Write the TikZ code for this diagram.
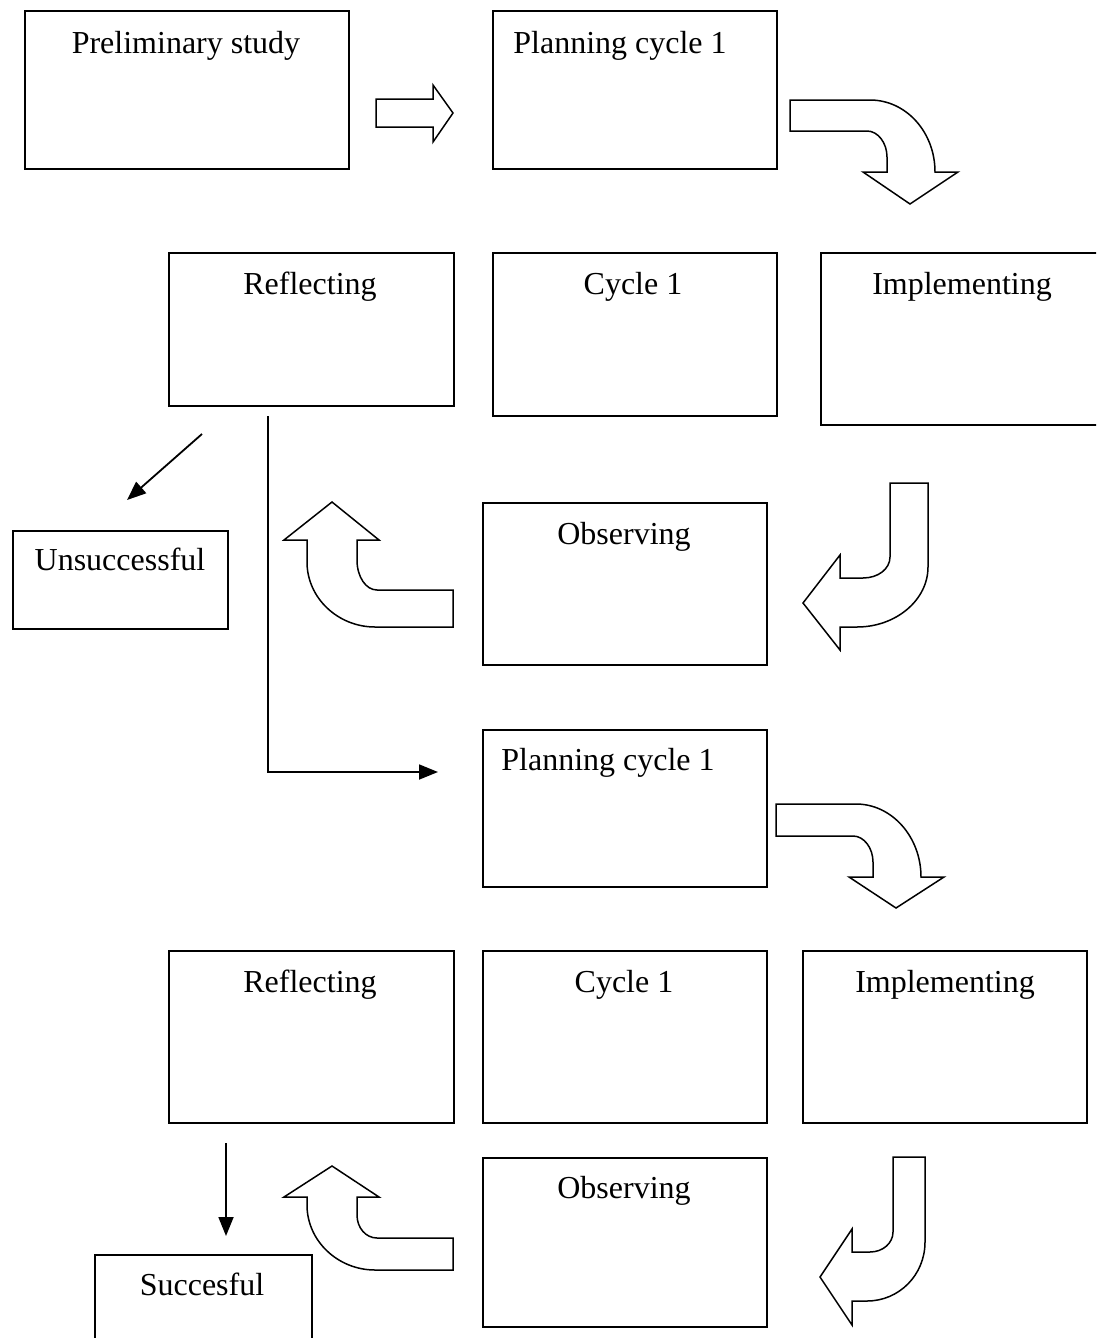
\documentclass[tikz,border=0pt]{standalone}
\usepackage{fontspec}
\setmainfont{Liberation Serif}
\usetikzlibrary{arrows.meta}
\tikzset{
  box/.style={draw, line width=1.6pt, rectangle, inner sep=0pt, anchor=north west},
  lbl/.style={anchor=base, inner sep=0pt, font=\fontsize{32}{38}\selectfont},
  blockarrow/.style={draw, line width=1.5pt, line join=miter, fill=white},
  conn/.style={line width=1.8pt, -{Triangle[length=19pt,width=15pt]}},
  plain/.style={line width=1.6pt}
}
\begin{document}
\begin{tikzpicture}[x=1pt,y=-1pt]
\useasboundingbox (0,0) rectangle (1096,1338);
\clip (0,0) rectangle (1096,1338);
\fill[white] (0,0) rectangle (1096,1338);

% boxes
\node[box, minimum width=324pt, minimum height=158pt] (pre) at (24,10) {};
\node[box, minimum width=284pt, minimum height=158pt] (plan1) at (492,10) {};
\node[box, minimum width=285pt, minimum height=153pt] (refl1) at (168,252) {};
\node[box, minimum width=284pt, minimum height=163pt] (cyc1) at (492,252) {};
\node[box, minimum width=290pt, minimum height=172pt] (impl1) at (820,252) {};
\node[box, minimum width=284pt, minimum height=162pt] (obs1) at (482,502) {};
\node[box, minimum width=215pt, minimum height=98pt] (unsucc) at (12,530) {};
\node[box, minimum width=284pt, minimum height=157pt] (plan2) at (482,729) {};
\node[box, minimum width=285pt, minimum height=172pt] (refl2) at (168,950) {};
\node[box, minimum width=284pt, minimum height=172pt] (cyc2) at (482,950) {};
\node[box, minimum width=284pt, minimum height=172pt] (impl2) at (802,950) {};
\node[box, minimum width=284pt, minimum height=169pt] (obs2) at (482,1157) {};
\node[box, minimum width=217pt, minimum height=110pt] (succ) at (94,1254) {};

% labels
\node[lbl] (preT) at (186,54) {Preliminary study};
\node[lbl] (plan1T) at (620,54) {Planning cycle 1};
\node[lbl] (refl1T) at (310,294) {Reflecting};
\node[lbl] (cyc1T) at (633,294) {Cycle 1};
\node[lbl] (impl1T) at (962,294) {Implementing};
\node[lbl] (obs1T) at (624,544) {Observing};
\node[lbl] (unsuccT) at (120,570) {Unsuccessful};
\node[lbl] (plan2T) at (608,770) {Planning cycle 1};
\node[lbl] (refl2T) at (310,992) {Reflecting};
\node[lbl] (cyc2T) at (624,992) {Cycle 1};
\node[lbl] (impl2T) at (945,992) {Implementing};
\node[lbl] (obs2T) at (624,1198) {Observing};
\node[lbl] (succT) at (202,1295) {Succesful};

% block arrows
\draw[blockarrow] (376,99) -- (433,99) -- (433,85) -- (453,113) -- (433,142) -- (433,127) -- (376,127) -- cycle;

\draw[blockarrow] (790,100) -- (870,100) .. controls (906,100) and (935,132) .. (935,172)
  -- (958,172) -- (910,204) -- (863,172) -- (887,172) -- (887,157)
  .. controls (887,143) and (878,131) .. (867,131) -- (790,131) -- cycle;

\draw[blockarrow] (890,483) -- (890,557) .. controls (890,569) and (878,578) .. (863,578)
  -- (840,578) -- (840,555) -- (803,603) -- (840,650) -- (840,627) -- (857,627)
  .. controls (896,627) and (928,600) .. (928,567) -- (928,483) -- cycle;

\draw[blockarrow] (453,590) -- (377,590) .. controls (366,590) and (357,577) .. (357,560)
  -- (357,540) -- (379,540) -- (332,502) -- (284,540) -- (307,540) -- (307,562)
  .. controls (307,598) and (338,627) .. (375,627) -- (453,627) -- cycle;

\draw[blockarrow] (776,804) -- (856,804) .. controls (892,804) and (921,837) .. (921,877)
  -- (944,877) -- (896,908) -- (849,877) -- (873,877) -- (873,862)
  .. controls (873,848) and (864,836) .. (853,836) -- (776,836) -- cycle;

\draw[blockarrow] (893,1157) -- (893,1232) .. controls (893,1243) and (883,1252) .. (870,1252)
  -- (852,1252) -- (852,1229) -- (820,1277) -- (852,1325) -- (852,1301) -- (867,1301)
  .. controls (899,1301) and (925,1275) .. (925,1242) -- (925,1157) -- cycle;

\draw[blockarrow] (453,1238) -- (377,1238) .. controls (366,1238) and (357,1228) .. (357,1215)
  -- (357,1197) -- (379,1197) -- (332,1166) -- (284,1197) -- (307,1197) -- (307,1205)
  .. controls (307,1241) and (338,1270) .. (375,1270) -- (453,1270) -- cycle;

% line connectors
\coordinate (dA) at (202,434);
\coordinate (dB) at (127,500);
\draw[conn] (dA) -- (dB);

\coordinate (eA) at (268,416);
\coordinate (eC) at (268,772);
\coordinate (eB) at (438,772);
\draw[conn] (eA) -- (eC) -- (eB);

\coordinate (sA) at (226,1143);
\coordinate (sB) at (226,1236);
\draw[conn] (sA) -- (sB);
\end{tikzpicture}
\end{document}
